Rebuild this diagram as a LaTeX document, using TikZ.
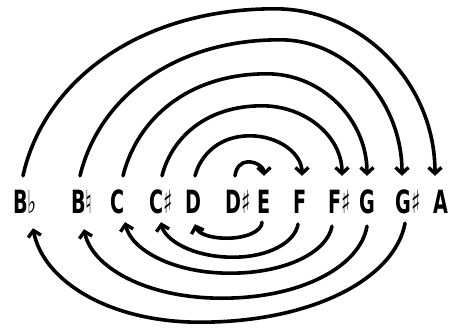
\documentclass[tikz,border=0pt]{standalone}
\usepackage{fontspec}
\usepackage{graphicx}
\setmainfont{DejaVu Sans}
\usetikzlibrary{arrows.meta}
\newcommand{\notename}[1]{\scalebox{0.6}[1]{#1}}

\begin{document}
\begin{tikzpicture}[x=1pt,y=-1pt,
  note/.style={inner sep=0pt,text height=37pt,text depth=9pt,
    font=\fontsize{32}{32}\selectfont\bfseries},
  turn/.style={line width=3.6pt,line cap=round,
    -{Straight Barb[length=6pt,width=13pt,line width=3.4pt]}}]
\useasboundingbox (0,0) rectangle (450,327);
\node[note] (bb) at (25,199) {\notename{B♭}};
\node[note] (bn) at (82,199) {\notename{B♮}};
\node[note] (c) at (118,199) {\notename{C}};
\node[note] (cs) at (161,199) {\notename{C♯}};
\node[note] (d) at (193,199) {\notename{D}};
\node[note] (ds) at (238,199) {\notename{D♯}};
\node[note] (e) at (264,199) {\notename{E}};
\node[note] (f) at (300,199) {\notename{F}};
\node[note] (fs) at (340,199) {\notename{F♯}};
\node[note] (g) at (367,199) {\notename{G}};
\node[note] (gs) at (408,199) {\notename{G♯}};
\node[note] (a) at (441,199) {\notename{A}};

% upper arcs
\draw[turn] ([xshift=-3pt]ds.north) .. controls +(1,-8) and +(-7,0) .. ++(13,-14)
  .. controls +(9,0) and +(0,-8) .. (e.north);
\draw[turn] ([xshift=2pt]d.north) .. controls +(6,-22) and +(-30,0) .. ++(55,-40)
  .. controls +(29,0) and +(0,-22) .. ([xshift=2pt]f.north);
\draw[turn] ([xshift=1pt]cs.north) .. controls +(10,-39) and +(-55,0) .. ++(100,-70)
  .. controls +(44,0) and +(0,-39) .. ([xshift=2pt]fs.north);
\draw[turn] ([xshift=5pt]c.north) .. controls +(14,-56) and +(-80,0) .. ++(144,-102)
  .. controls +(55,0) and +(0,-56) .. (g.north);
\draw[turn] ([xshift=-2pt]bn.north) .. controls +(18,-75) and +(-110,0) .. ++(200,-136)
  .. controls +(67,0) and +(0,-75) .. ([xshift=-6pt]gs.north);
\draw[turn] ([xshift=-2pt]bb.north) .. controls +(20,-92) and +(-139,0) .. ++(252,-167)
  .. controls +(88,0) and +(0,-92) .. ([xshift=-6pt]a.north);
% lower arcs
\draw[turn] ([xshift=-2pt]e.south) .. controls +(0,9) and +(19,0) .. ++(-35,16)
  .. controls +(-18,0) and +(3,9) .. ([xshift=2pt,yshift=-2pt]d.south);
\draw[turn] ([xshift=-2pt,yshift=-2pt]f.south) .. controls +(-3,18) and +(36,0) .. ++(-65,33)
  .. controls +(-40,0) and +(4,18) .. (cs.south);
\draw[turn] ([xshift=-8pt,yshift=-4pt]fs.south) .. controls +(-5,26) and +(56,0) .. ++(-102,47)
  .. controls +(-58,0) and +(6,27) .. ([xshift=7pt]c.south);
\draw[turn] ([yshift=-4pt]g.south) .. controls +(-7,40) and +(80,0) .. ++(-145,72)
  .. controls +(-76,0) and +(8,38) .. ([xshift=2pt,yshift=-7pt]bn.south);
\draw[turn] ([xshift=-3pt,yshift=-1pt]gs.south) .. controls +(-10,55) and +(113,0) .. ++(-205,99)
  .. controls +(-92,0) and +(10,52) .. ([xshift=8pt,yshift=-6pt]bb.south);
\end{tikzpicture}
\end{document}
